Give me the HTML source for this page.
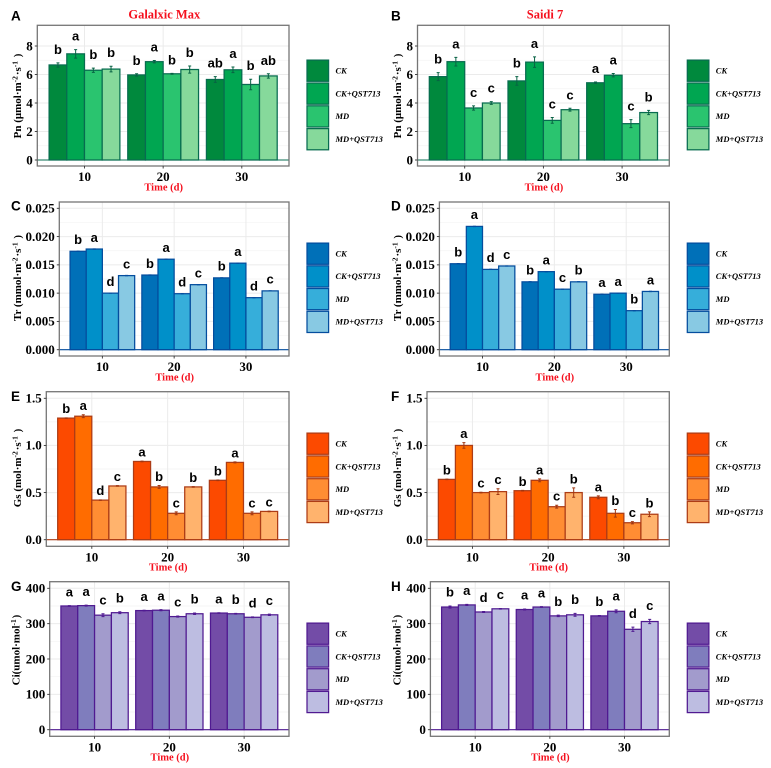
<!DOCTYPE html>
<html lang="en">
<head>
<meta charset="utf-8">
<title>Photosynthesis parameters by treatment</title>
<style>
html,body{margin:0;padding:0;background:#fff;width:771px;height:768px;overflow:hidden}
#chart{display:block;filter:blur(0.35px)}
text{font-family:"Liberation Serif",serif}
.sans{font-family:"Liberation Sans",sans-serif;font-weight:bold;fill:#000}
.tick{font-weight:bold;font-size:13px;fill:#000}
.ytitle{font-weight:bold;font-size:11px;fill:#000}
.xtitle{font-weight:bold;font-size:10.5px;fill:#f5101e}
.title{font-weight:bold;font-size:12.5px;fill:#f5101e}
.leg{font-weight:bold;font-style:italic;font-size:8.5px;fill:#000}
</style>
</head>
<body>
<svg id="chart" width="771" height="768" viewBox="0 0 771 768" xmlns="http://www.w3.org/2000/svg"></svg>
<script>
/* ---------- data ---------- */
const timeCategories = ['10','20','30'];
const treatments = ['CK','CK+QST713','MD','MD+QST713'];

const pnTicks = ['0','2','4','6','8'];
const trTicks = ['0.000','0.005','0.010','0.015','0.020','0.025'];
const gsTicks = ['0.0','0.5','1.0','1.5'];
const ciTicks = ['0','100','200','300','400'];

const pnGalalxicCK = [6.67,5.97,5.65];
const pnGalalxicCKQ = [7.45,6.9,6.33];
const pnGalalxicMD = [6.3,6.05,5.3];
const pnGalalxicMDQ = [6.38,6.35,5.9];
const pnGalalxicErr = [[.15,.08,.2],[.3,.08,.2],[.15,.03,.37],[.2,.25,.15]];
const pnGalalxicLetters = [['b','b','ab'],['a','a','a'],['b','b','b'],['b','b','ab']];

const pnSaidiCK = [5.85,5.55,5.42];
const pnSaidiCKQ = [6.9,6.87,5.95];
const pnSaidiMD = [3.65,2.78,2.55];
const pnSaidiMDQ = [4.0,3.53,3.33];
const pnSaidiErr = [[.28,.3,.05],[.3,.37,.12],[.15,.2,.28],[.1,.1,.15]];
const pnSaidiLetters = [['b','b','a'],['a','a','a'],['c','c','c'],['c','c','b']];

const trGalalxicCK = [.0174,.0132,.0127];
const trGalalxicCKQ = [.0178,.016,.0153];
const trGalalxicMD = [.01,.0099,.0092];
const trGalalxicMDQ = [.0131,.0115,.0104];
const trGalalxicErr = [[.00003,.00003,.00003],[.00003,.00003,.00003],[.00003,.00003,.00003],[.00003,.00003,.00003]];
const trGalalxicLetters = [['b','b','b'],['a','a','a'],['d','d','d'],['c','c','c']];

const trSaidiCK = [.0152,.012,.0098];
const trSaidiCKQ = [.0218,.0138,.01];
const trSaidiMD = [.0142,.0107,.0069];
const trSaidiMDQ = [.0148,.012,.0103];
const trSaidiErr = [[.00003,.00003,.00003],[.00003,.00003,.00003],[.00003,.00003,.00003],[.00003,.00003,.00003]];
const trSaidiLetters = [['b','b','a'],['a','a','a'],['d','c','b'],['c','b','a']];

const gsGalalxicCK = [1.29,.83,.63];
const gsGalalxicCKQ = [1.31,.56,.82];
const gsGalalxicMD = [.42,.28,.28];
const gsGalalxicMDQ = [.57,.56,.3];
const gsGalalxicErr = [[.003,.003,.003],[.015,.015,.005],[.003,.015,.015],[.003,.003,.003]];
const gsGalalxicLetters = [['b','a','b'],['a','b','a'],['d','c','c'],['c','b','c']];

const gsSaidiCK = [.64,.52,.45];
const gsSaidiCKQ = [1.0,.63,.28];
const gsSaidiMD = [.5,.35,.18];
const gsSaidiMDQ = [.51,.5,.27];
const gsSaidiErr = [[.003,.003,.015],[.03,.015,.04],[.003,.015,.012],[.03,.05,.025]];
const gsSaidiLetters = [['b','b','a'],['a','a','b'],['c','c','c'],['c','b','b']];

const ciGalalxicCK = [350,337,330];
const ciGalalxicCKQ = [351,338,328];
const ciGalalxicMD = [324,320,318];
const ciGalalxicMDQ = [331,328,325];
const ciGalalxicErr = [[1,1,1],[1.5,1.5,1],[4,1.5,1],[2.5,2,2]];
const ciGalalxicLetters = [['a','a','a'],['a','a','b'],['c','c','d'],['b','b','c']];

const ciSaidiCK = [347,340,322];
const ciSaidiCKQ = [353,347,335];
const ciSaidiMD = [333,322,284];
const ciSaidiMDQ = [342,325,306];
const ciSaidiErr = [[3,1.5,1],[1.5,1,4],[1.5,2,6],[1,4,6]];
const ciSaidiLetters = [['b','a','b'],['a','a','a'],['d','b','d'],['c','b','c']];

/* ---------- styling ---------- */
const greens = {fill:['#00893d','#00a651','#2ac46f','#86d99b'],stroke:'#086c50',err:'#086244'};
const blues = {fill:['#0070b8','#0090c9','#36aeda','#88c9e3'],stroke:'#044d9e',err:'#044d9e'};
const oranges = {fill:['#fc4a00','#ff6c00','#ff8d33','#ffb36d'],stroke:'#ad3c16',err:'#a03610'};
const purples = {fill:['#734ca7','#7f7dbd','#a29bcc','#bdbde1'],stroke:'#501a91',err:'#501a91'};

const sup = (s) => '<tspan dy="-3.5" font-size="7.5">'+s+'</tspan><tspan dy="3.5">\u200a</tspan>';
const pnLabel = 'Pn (\u03bcmol\u00b7m'+sup('-2')+'\u00b7s'+sup('-1')+' )';
const trLabel = 'Tr (mmol\u00b7m'+sup('-2')+'\u00b7s'+sup('-1')+' )';
const gsLabel = 'Gs (mol\u00b7m'+sup('-2')+'\u00b7s'+sup('-1')+' )';
const ciLabel = 'Ci(umol\u00b7mol'+sup('-1')+')';

const panels = [
 {id:'a',mark:'A',cultivar:'Galalxic Max',metric:'pn',series:[pnGalalxicCK,pnGalalxicCKQ,pnGalalxicMD,pnGalalxicMDQ],err:pnGalalxicErr,letters:pnGalalxicLetters,ticks:pnTicks,pal:greens,label:pnLabel,
  l:37.3,r:289,t:25.3,b:166,y0:160,yTop:46,gap:9,markX:11,markY:20.7,ttlX:17.5,ttlY:96,legY:[70.7,93.6,116.4,139.2],legX:307,title:{x:164.3,y:18.6}},
 {id:'b',mark:'B',cultivar:'Saidi 7',metric:'pn',series:[pnSaidiCK,pnSaidiCKQ,pnSaidiMD,pnSaidiMDQ],err:pnSaidiErr,letters:pnSaidiLetters,ticks:pnTicks,pal:greens,label:pnLabel,
  l:417.5,r:669.3,t:25.3,b:166,y0:160,yTop:46,gap:9,markX:391,markY:20.7,ttlX:397.5,ttlY:96,legY:[70.7,93.6,116.4,139.2],legX:687.3,title:{x:545,y:18.6}},
 {id:'c',mark:'C',cultivar:'Galalxic Max',metric:'tr',series:[trGalalxicCK,trGalalxicCKQ,trGalalxicMD,trGalalxicMDQ],err:trGalalxicErr,letters:trGalalxicLetters,ticks:trTicks,pal:blues,label:trLabel,
  l:59.3,r:289,t:202,b:356,y0:349.7,yTop:208.3,gap:7,markX:11,markY:210.7,ttlX:17.5,ttlY:278,legY:[253.7,276.4,299.1,321.9],legX:307},
 {id:'d',mark:'D',cultivar:'Saidi 7',metric:'tr',series:[trSaidiCK,trSaidiCKQ,trSaidiMD,trSaidiMDQ],err:trSaidiErr,letters:trSaidiLetters,ticks:trTicks,pal:blues,label:trLabel,
  l:439.4,r:669.3,t:202,b:356,y0:349.7,yTop:208.3,gap:7,markX:391,markY:210.7,ttlX:397.5,ttlY:278,legY:[253.7,276.4,299.1,321.9],legX:687.3},
 {id:'e',mark:'E',cultivar:'Galalxic Max',metric:'gs',series:[gsGalalxicCK,gsGalalxicCKQ,gsGalalxicMD,gsGalalxicMDQ],err:gsGalalxicErr,letters:gsGalalxicLetters,ticks:gsTicks,pal:oranges,label:gsLabel,
  l:46.3,r:289,t:391.7,b:546.3,y0:539.7,yTop:398.3,gap:4.6,markX:11,markY:401,ttlX:17.5,ttlY:468,legY:[443.7,466.5,489.3,512],legX:307},
 {id:'f',mark:'F',cultivar:'Saidi 7',metric:'gs',series:[gsSaidiCK,gsSaidiCKQ,gsSaidiMD,gsSaidiMDQ],err:gsSaidiErr,letters:gsSaidiLetters,ticks:gsTicks,pal:oranges,label:gsLabel,
  l:427,r:669.3,t:391.7,b:546.3,y0:539.7,yTop:398.3,gap:4.6,markX:391,markY:401,ttlX:397.5,ttlY:468,legY:[443.7,466.5,489.3,512],legX:687.3},
 {id:'g',mark:'G',cultivar:'Galalxic Max',metric:'ci',series:[ciGalalxicCK,ciGalalxicCKQ,ciGalalxicMD,ciGalalxicMDQ],err:ciGalalxicErr,letters:ciGalalxicLetters,ticks:ciTicks,pal:purples,label:ciLabel,
  l:49.7,r:289,t:581.7,b:736.3,y0:729.7,yTop:588.3,gap:9.3,markX:11,markY:591,ttlX:16,ttlY:650,legY:[633.7,656.5,679.3,702],legX:307},
 {id:'h',mark:'H',cultivar:'Saidi 7',metric:'ci',series:[ciSaidiCK,ciSaidiCKQ,ciSaidiMD,ciSaidiMDQ],err:ciSaidiErr,letters:ciSaidiLetters,ticks:ciTicks,pal:purples,label:ciLabel,
  l:430.4,r:669.3,t:581.7,b:736.3,y0:729.7,yTop:588.3,gap:9.3,markX:391,markY:591,ttlX:397,ttlY:650,legY:[633.7,656.5,679.3,702],legX:687.3}
];

/* ---------- drawing ---------- */
const svg = document.getElementById('chart');
const NS = 'http://www.w3.org/2000/svg';
function el(parent, tag, attrs){
  const n = document.createElementNS(NS, tag);
  for(const k in attrs) n.setAttribute(k, attrs[k]);
  parent.appendChild(n);
  return n;
}

panels.forEach(function(p){
  const nCat = timeCategories.length;
  const unit = (p.r - p.l) / (nCat + 0.2);
  const xScale = (i) => p.l + (i + 0.6) * unit;
  const tickMax = parseFloat(p.ticks[p.ticks.length - 1]);
  const yScale = (v) => p.y0 - (v / tickMax) * (p.y0 - p.yTop);
  const barW = 0.9 * unit / treatments.length;
  const barX = (i, s) => xScale(i) - 0.45 * unit + s * barW;

  const g = el(svg, 'g', {});
  
  

  /* panel background + grid */
  const bg = el(g, 'rect', {x:p.l, y:p.t, width:p.r - p.l, height:p.b - p.t, fill:'#fff'});
  
  

  p.ticks.forEach(function(t, i){
    const v = parseFloat(t);
    const y = yScale(v);
    const line = el(g, 'line', {x1:p.l, x2:p.r, y1:y, y2:y, stroke:'#ebebeb', 'stroke-width':1});
    
    
    if(i < p.ticks.length - 1){
      const my = yScale((v + parseFloat(p.ticks[i + 1])) / 2);
      const minor = el(g, 'line', {x1:p.l, x2:p.r, y1:my, y2:my, stroke:'#f3f3f3', 'stroke-width':0.7});
      
      
    }
  });
  timeCategories.forEach(function(c, i){
    const x = xScale(i);
    const line = el(g, 'line', {x1:x, x2:x, y1:p.t, y2:p.b, stroke:'#ebebeb', 'stroke-width':1});
    
    
  });

  /* bars */
  p.series.forEach(function(vals, s){
    vals.forEach(function(v, i){
      const top = yScale(v);
      const bar = el(g, 'rect', {x:barX(i, s), y:top, width:barW, height:p.y0 - top, fill:p.pal.fill[s], stroke:p.pal.stroke, 'stroke-width':1.25});
      
      
    });
  });

  /* error bars + significance letters */
  p.series.forEach(function(vals, s){
    vals.forEach(function(v, i){
      const cx = barX(i, s) + barW / 2;
      const e = p.err[s][i];
      const hi = yScale(v + e), lo = yScale(v - e);
      const eb = el(g, 'path', {d:'M' + (cx - 1.5) + ' ' + hi + 'H' + (cx + 1.5) + 'M' + cx + ' ' + hi + 'V' + lo + 'M' + (cx - 1.5) + ' ' + lo + 'H' + (cx + 1.5), fill:'none', stroke:p.pal.err, 'stroke-width':1});
      
      
      const lt = el(g, 'text', {x:cx, y:hi - p.gap, 'text-anchor':'middle', 'font-size':13, class:'sans'});
      lt.textContent = p.letters[s][i];
      
      
    });
  });

  /* zero line + border */
  const zero = el(g, 'line', {x1:p.l, x2:p.r, y1:p.y0, y2:p.y0, stroke:p.pal.stroke, 'stroke-width':1.1});
  
  
  const border = el(g, 'rect', {x:p.l, y:p.t, width:p.r - p.l, height:p.b - p.t, fill:'none', stroke:'#757575', 'stroke-width':1.3});
  
  

  /* y axis */
  p.ticks.forEach(function(t){
    const y = yScale(parseFloat(t));
    const tk = el(g, 'line', {x1:p.l - 2.5, x2:p.l, y1:y, y2:y, stroke:'#333', 'stroke-width':0.9});
    
    
    const lb = el(g, 'text', {x:p.l - 4.5, y:y + 4.3, 'text-anchor':'end', class:'tick'});
    lb.textContent = t;
    
    
  });
  const yt = el(g, 'text', {transform:'translate(' + (p.ttlX + 3.5) + ' ' + p.ttlY + ') rotate(-90)', 'text-anchor':'middle', class:'ytitle'});
  yt.innerHTML = p.label;
  
  

  /* x axis */
  timeCategories.forEach(function(c, i){
    const x = xScale(i);
    const tk = el(g, 'line', {x1:x, x2:x, y1:p.b, y2:p.b + 2.5, stroke:'#333', 'stroke-width':0.9});
    
    
    const lb = el(g, 'text', {x:x, y:p.b + 15, 'text-anchor':'middle', class:'tick'});
    lb.textContent = c;
    
    
  });
  const xt = el(g, 'text', {x:(p.l + p.r) / 2 + 0.5, y:p.b + 24.3, 'text-anchor':'middle', class:'xtitle'});
  xt.textContent = 'Time (d)';
  
  

  /* panel letter and title */
  const mk = el(g, 'text', {x:p.markX, y:p.markY, 'font-size':13.5, class:'sans'});
  mk.textContent = p.mark;
  
  
  if(p.title){
    const tt = el(g, 'text', {x:p.title.x, y:p.title.y, 'text-anchor':'middle', class:'title'});
    tt.textContent = p.cultivar;
    
    
  }

  /* legend */
  treatments.forEach(function(name, s){
    const cy = p.legY[s];
    const key = el(g, 'rect', {x:p.legX, y:cy - 10.6, width:21.6, height:21.2, fill:p.pal.fill[s], stroke:p.pal.stroke, 'stroke-width':1.25});
    
    
    const lb = el(g, 'text', {x:p.legX + 28.5, y:cy + 2.8, class:'leg'});
    lb.textContent = name;
    
    
  });
});
</script>
</body>
</html>
